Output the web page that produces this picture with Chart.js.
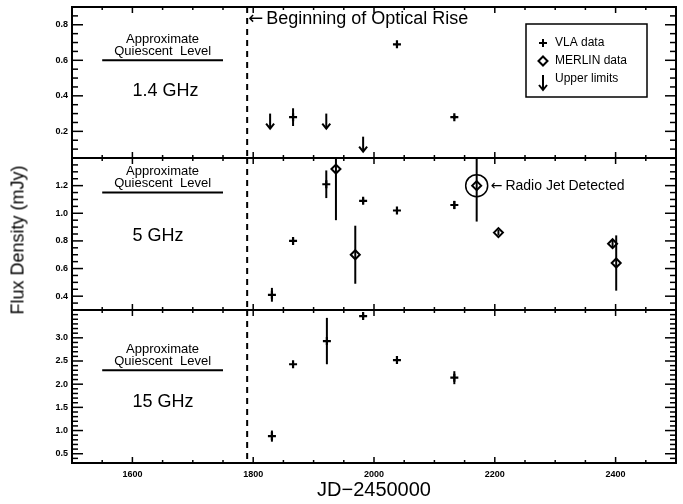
<!DOCTYPE html>
<html>
<head>
<meta charset="utf-8">
<script src="https://cdn.jsdelivr.net/npm/chart.js@4/dist/chart.umd.min.js"></script>
<style>
    body { margin: 0; background: #fff; }
    #wrap { position: relative; width: 683px; height: 504px; overflow: hidden; }
    #wrap canvas { position: absolute; left: 0; }
    #ytitle {
        position: absolute; left: 18px; top: 240px;
        transform: translate(-50%, -50%) rotate(-90deg);
        font: 18px "Liberation Sans", Arial, sans-serif; white-space: nowrap; color: #000;
    }
</style>
</head>
<body>
<div id="wrap">
    <canvas id="p14" width="683" height="165" style="top:0px"></canvas>
    <canvas id="p5" width="683" height="170" style="top:148px"></canvas>
    <canvas id="p15" width="683" height="204" style="top:300px"></canvas>
    <div id="ytitle">Flux Density (mJy)</div>
</div>
<script>
// Axis ticks / labels
const xTickLabels = [1600, 1800, 2000, 2200, 2400];
const panelLabels = ['1.4 GHz', '5 GHz', '15 GHz'];
const yTicks14 = [0.2, 0.4, 0.6, 0.8];
const yTicks5 = [0.4, 0.6, 0.8, 1.0, 1.2];
const yTicks15 = [0.5, 1.0, 1.5, 2.0, 2.5, 3.0];

// Reference markers
const opticalRiseJd = 1790;
const quiescentLevels = [0.6, 1.15, 2.3];
const quiescentSpan = [1550, 1750];

// 1.4 GHz
const vla14Jd = [1866, 2038, 2133];
const vla14Flux = [0.28, 0.69, 0.28];
const vla14Err = [0.05, 0.01, 0.01];
const lim14Jd = [1828, 1921, 1982];
const lim14Flux = [0.30, 0.30, 0.17];

// 5 GHz
const vla5Jd = [1831, 1866, 1921, 1982, 2038, 2133];
const vla5Flux = [0.41, 0.80, 1.21, 1.09, 1.02, 1.06];
const vla5Err = [0.05, 0.02, 0.10, 0.02, 0.01, 0.03];
const merlin5Jd = [1937, 1969, 2170, 2206, 2395, 2401];
const merlin5Flux = [1.32, 0.70, 1.20, 0.86, 0.78, 0.64];
const merlin5Err = [0.37, 0.21, 0.26, 0.02, 0.03, 0.20];
const jetIndex = 2; // MERLIN point where the jet was seen

// 15 GHz
const vla15Jd = [1831, 1866, 1922, 1982, 2038, 2133];
const vla15Flux = [0.88, 2.43, 2.93, 3.47, 2.52, 2.14];
const vla15Err = [0.12, 0.04, 0.50, 0.05, 0.03, 0.14];

const FONT = '"Liberation Sans", Arial, sans-serif';
const ARROW_FONT = '"DejaVu Sans", sans-serif';
Chart.defaults.color = '#000';
Chart.defaults.font.family = FONT;

const toPts = (jd, flux) => jd.map((v, i) => ({ x: v, y: flux[i] }));

function seg(ctx, x1, y1, x2, y2) {
    ctx.beginPath();
    ctx.moveTo(x1, y1);
    ctx.lineTo(x2, y2);
    ctx.stroke();
}

function downArrow(ctx, px, py, len) {
    seg(ctx, px, py, px, py + len);
    ctx.beginPath();
    ctx.moveTo(px - 4, py + len - 5);
    ctx.lineTo(px, py + len);
    ctx.lineTo(px + 4, py + len - 5);
    ctx.stroke();
}

// arrow glyph + text, left aligned
function arrowText(ctx, text, px, py, size, gap) {
    ctx.font = size + 'px ' + ARROW_FONT;
    ctx.fillText('\u2190', px, py);
    const w = ctx.measureText('\u2190').width;
    ctx.font = size + 'px ' + FONT;
    ctx.fillText(text, px + w + gap, py);
}

// Frame, inward ticks, error bars, arrows and annotations
const panelDecor = {
    id: 'panelDecor',
    beforeDatasetsDraw(chart, args, o) {
        const { ctx, chartArea: a, scales: { x, y } } = chart;
        ctx.save();
        ctx.beginPath();
        ctx.rect(a.left, a.top, a.width, a.height);
        ctx.clip();
        ctx.strokeStyle = '#000';
        ctx.fillStyle = '#000';
        ctx.lineWidth = 2;

        // error bars
        (o.errors || []).forEach(s => s.jd.forEach((jd, i) => {
            const px = x.getPixelForValue(jd);
            seg(ctx, px, y.getPixelForValue(s.flux[i] - s.err[i]), px, y.getPixelForValue(s.flux[i] + s.err[i]));
        }));

        // upper limits
        if (o.limits) {
            o.limits.jd.forEach((jd, i) => {
                downArrow(ctx, x.getPixelForValue(jd), y.getPixelForValue(o.limits.flux[i]), 15);
            });
        }

        // optical rise
        const rx = x.getPixelForValue(opticalRiseJd);
        ctx.setLineDash([6, 5]);
        seg(ctx, rx, a.top, rx, a.bottom);
        ctx.setLineDash([]);

        // quiescent level
        const qy = y.getPixelForValue(o.level);
        const qx1 = x.getPixelForValue(quiescentSpan[0]);
        const qx2 = x.getPixelForValue(quiescentSpan[1]);
        seg(ctx, qx1, qy, qx2, qy);
        ctx.textAlign = 'center';
        ctx.textBaseline = 'middle';
        ctx.font = '13px ' + FONT;
        ctx.fillText('Approximate', (qx1 + qx2) / 2, qy - 21);
        ctx.fillText('Quiescent  Level', (qx1 + qx2) / 2, qy - 9);

        ctx.textAlign = 'left';
        ctx.font = '18px ' + FONT;
        ctx.fillText(o.label, x.getPixelForValue(1600), qy + o.labelDy);

        if (o.riseNote) {
            arrowText(ctx, 'Beginning of Optical Rise', rx + 1, a.top + 12, 18, 3);
        }

        if (o.jet) {
            const jx = x.getPixelForValue(merlin5Jd[jetIndex]);
            const jy = y.getPixelForValue(merlin5Flux[jetIndex]);
            ctx.lineWidth = 1.5;
            ctx.beginPath();
            ctx.arc(jx, jy, 11, 0, Math.PI * 2);
            ctx.stroke();
            arrowText(ctx, 'Radio Jet Detected', jx + 14, jy + 1, 14, 3);
        }
        ctx.restore();
    },
    afterDraw(chart, args, o) {
        const { ctx, chartArea: a, scales: { x, y } } = chart;
        ctx.save();
        ctx.strokeStyle = '#000';
        ctx.fillStyle = '#000';

        // ticks
        ctx.lineWidth = 1.5;
        for (let v = 1500; v <= 2500; v += 50) {
            const px = x.getPixelForValue(v);
            const len = xTickLabels.includes(v) ? 6 : 3;
            seg(ctx, px, a.bottom, px, a.bottom - len);
            seg(ctx, px, a.top, px, a.top + len);
        }
        const n = Math.round((y.max - y.min) / o.minorStep);
        for (let k = 0; k <= n; k++) {
            const v = +(Math.ceil(y.min / o.minorStep) * o.minorStep + k * o.minorStep).toFixed(3);
            if (v > y.max) break;
            const py = y.getPixelForValue(v);
            const len = o.yTicks.some(t => Math.abs(t - v) < 1e-6) ? 11 : 6;
            seg(ctx, a.left, py, a.left + len, py);
            seg(ctx, a.right, py, a.right - len, py);
        }

        // frame
        ctx.lineWidth = 2;
        ctx.strokeRect(a.left, a.top, a.width, a.height);

        // legend
        if (o.legend) {
            ctx.lineWidth = 1.5;
            ctx.strokeRect(526, 24, 121, 73);
            ctx.lineWidth = 2;
            const sx = 543;
            seg(ctx, sx - 4, 43, sx + 4, 43);
            seg(ctx, sx, 39, sx, 47);
            ctx.beginPath();
            ctx.moveTo(sx - 4.5, 61); ctx.lineTo(sx, 56.5); ctx.lineTo(sx + 4.5, 61); ctx.lineTo(sx, 65.5);
            ctx.closePath();
            ctx.stroke();
            downArrow(ctx, sx, 75, 15);
            ctx.font = '12px ' + FONT;
            ctx.textAlign = 'left';
            ctx.textBaseline = 'middle';
            ctx.fillText('VLA data', 555, 43);
            ctx.fillText('MERLIN data', 555, 61);
            ctx.fillText('Upper limits', 555, 79);
        }
        ctx.restore();
    }
};

function makePanel(id, cfg) {
    return new Chart(document.getElementById(id), {
        type: 'scatter',
        data: { datasets: cfg.datasets },
        plugins: [panelDecor],
        options: {
            responsive: false,
            animation: false,
            layout: { padding: { top: cfg.padTop, bottom: cfg.padBottom, left: 0, right: 7 } },
            plugins: {
                legend: { display: false },
                tooltip: { enabled: false },
                panelDecor: cfg.decor,
            },
            scales: {
                x: {
                    type: 'linear',
                    min: 1500,
                    max: 2500,
                    afterBuildTicks: s => { s.ticks = xTickLabels.map(v => ({ value: v })); },
                    afterFit: s => { s.height = cfg.xHeight; s.paddingLeft = 0; s.paddingRight = 0; },
                    grid: { display: false, drawTicks: false },
                    border: { display: false },
                    ticks: {
                        display: cfg.showX,
                        autoSkip: false,
                        maxRotation: 0,
                        padding: 6,
                        font: { size: 9, weight: 'bold' },
                        callback: v => String(v),
                    },
                    title: {
                        display: cfg.showX,
                        text: 'JD\u22122450000',
                        font: { size: 20 },
                        padding: { top: 0, bottom: 2 },
                    },
                },
                y: {
                    min: cfg.yMin,
                    max: cfg.yMax,
                    afterBuildTicks: s => { s.ticks = cfg.yTicks.map(v => ({ value: v })); },
                    afterFit: s => { s.width = 72; s.paddingTop = 0; s.paddingBottom = 0; },
                    grid: { display: false, drawTicks: false },
                    border: { display: false },
                    ticks: {
                        padding: 4,
                        font: { size: 9, weight: 'bold' },
                        callback: v => v.toFixed(1),
                    },
                },
            },
        },
    });
}

const vlaStyle = { pointStyle: 'cross', pointRadius: 4, borderColor: '#000', borderWidth: 2.2, showLine: false };
const merlinStyle = { pointStyle: 'rectRot', pointRadius: 4.5, borderColor: '#000', backgroundColor: 'rgba(0,0,0,0)', borderWidth: 2, showLine: false };

document.addEventListener('DOMContentLoaded', function () {
    makePanel('p14', {
        padTop: 7, padBottom: 7, xHeight: 0, showX: false,
        yMin: 0.05, yMax: 0.9, yTicks: yTicks14,
        datasets: [{ label: 'VLA data', data: toPts(vla14Jd, vla14Flux), ...vlaStyle }],
        decor: {
            level: quiescentLevels[0], label: panelLabels[0], labelDy: 31,
            minorStep: 0.05, yTicks: yTicks14, riseNote: true, legend: true,
            errors: [{ jd: vla14Jd, flux: vla14Flux, err: vla14Err }],
            limits: { jd: lim14Jd, flux: lim14Flux },
        },
    });

    makePanel('p5', {
        padTop: 10, padBottom: 8, xHeight: 0, showX: false,
        yMin: 0.3, yMax: 1.4, yTicks: yTicks5,
        datasets: [
            { label: 'VLA data', data: toPts(vla5Jd, vla5Flux), ...vlaStyle },
            { label: 'MERLIN data', data: toPts(merlin5Jd, merlin5Flux), ...merlinStyle },
        ],
        decor: {
            level: quiescentLevels[1], label: panelLabels[1], labelDy: 43,
            minorStep: 0.05, yTicks: yTicks5, jet: true,
            errors: [
                { jd: vla5Jd, flux: vla5Flux, err: vla5Err },
                { jd: merlin5Jd, flux: merlin5Flux, err: merlin5Err },
            ],
        },
    });

    makePanel('p15', {
        padTop: 10, padBottom: 0, xHeight: 41, showX: true,
        yMin: 0.3, yMax: 3.6, yTicks: yTicks15,
        datasets: [{ label: 'VLA data', data: toPts(vla15Jd, vla15Flux), ...vlaStyle }],
        decor: {
            level: quiescentLevels[2], label: panelLabels[2], labelDy: 32,
            minorStep: 0.1, yTicks: yTicks15,
            errors: [{ jd: vla15Jd, flux: vla15Flux, err: vla15Err }],
        },
    });
});
</script>
</body>
</html>
